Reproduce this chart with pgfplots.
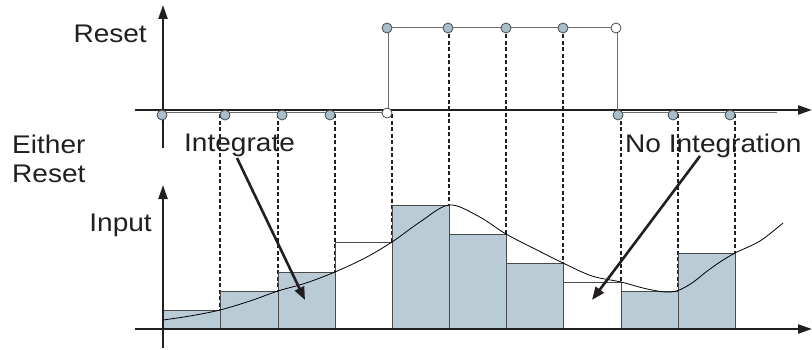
\documentclass[border=0pt]{standalone}
\usepackage{pgfplots}
\pgfplotsset{compat=1.18}
\usepackage{graphicx}
\usetikzlibrary{arrows.meta}
\usepackage{fontspec}
\setmainfont{Liberation Sans}
\definecolor{barblue}{HTML}{B9CBD4}
\definecolor{circblue}{HTML}{A8BECA}
\definecolor{edgegray}{HTML}{4A4A4A}
\definecolor{siggray}{HTML}{6E6E6E}
\definecolor{ink}{HTML}{231F20}
\newcommand{\lbl}[1]{\fontsize{25.5}{28}\selectfont\scalebox{1.1}[1]{#1}}
\begin{document}
\begin{tikzpicture}
\begin{axis}[
  scale only axis, width=812pt, height=349pt,
  xmin=0, xmax=812, ymin=-20, ymax=329,
  hide axis, clip=false,
]
% dashed sample lines
\addplot[ink, line width=1.5pt, dash pattern=on 4pt off 2.5pt] coordinates {(220,215) (220,0)};
\addplot[ink, line width=1.5pt, dash pattern=on 4pt off 2.5pt] coordinates {(278,215) (278,0)};
\addplot[ink, line width=1.5pt, dash pattern=on 4pt off 2.5pt] coordinates {(335,215) (335,0)};
\addplot[ink, line width=1.5pt, dash pattern=on 4pt off 2.5pt] coordinates {(392,215) (392,0)};
\addplot[ink, line width=1.5pt, dash pattern=on 4pt off 2.5pt] coordinates {(449,301) (449,0)};
\addplot[ink, line width=1.5pt, dash pattern=on 4pt off 2.5pt] coordinates {(506,301) (506,0)};
\addplot[ink, line width=1.5pt, dash pattern=on 4pt off 2.5pt] coordinates {(563,301) (563,0)};
\addplot[ink, line width=1.5pt, dash pattern=on 4pt off 2.5pt] coordinates {(621,215) (621,0)};
\addplot[ink, line width=1.5pt, dash pattern=on 4pt off 2.5pt] coordinates {(678,215) (678,0)};
\addplot[ink, line width=1.5pt, dash pattern=on 4pt off 2.5pt] coordinates {(735,215) (735,0)};
% held values (bars)
\addplot[ybar interval, fill=barblue, draw=edgegray, line width=0.8pt] coordinates {
(163,19) (220,38) (278,57) (335,87) (392,124) (449,95) (506,66) (563,47) (621,38) (678,76) (735,76)};
\addplot[ybar interval, fill=white, draw=edgegray, line width=0.8pt] coordinates {(335,87) (392,87)};
\addplot[ybar interval, fill=white, draw=edgegray, line width=0.8pt] coordinates {(563,47) (621,47)};
% input curve
\addplot[black, line width=0.8pt, smooth, tension=0.55] coordinates {
(163,9) (190,13) (220,19) (250,28) (278,38) (306,46) (335,57) (365,71) (392,87) (420,107) (449,124)
(478,113) (506,95) (535,80) (563,66) (592,53) (621,47) (645,40.5) (665,37) (678,38.5) (692,46) (706,57) (720,67) (735,76) (760,88) (783,106)};
% axes
\addplot[ink, line width=2.3pt, -{Triangle[length=14pt,width=9pt]}] coordinates {(163,181) (163,324)};
\addplot[ink, line width=2.3pt, -{Triangle[length=14pt,width=9pt]}] coordinates {(135,219) (812,219)};
\addplot[ink, line width=2.3pt, -{Triangle[length=14pt,width=9pt]}] coordinates {(163,-19) (163,144)};
\addplot[ink, line width=2.3pt, -{Triangle[length=14pt,width=9pt]}] coordinates {(135,0) (812,0)};
% reset signal
\addplot[siggray, line width=1pt] coordinates {(163,216.5) (388,216.5) (388,301) (617,301) (617,216.5) (777,216.5)};
% samples of reset
\addplot[only marks, mark=*, mark size=5pt, mark options={fill=circblue, draw=edgegray, line width=0.8pt}] coordinates {
(162,214) (225,214) (282,214) (330,214) (618,214) (673,214) (730,214)
(387,301) (448,301) (506,301) (563,301)};
\addplot[only marks, mark=*, mark size=5pt, mark options={fill=white, draw=edgegray, line width=0.8pt}] coordinates {
(387,216) (616,301)};
% annotation arrows
\addplot[ink, line width=2.6pt, -{Triangle[length=13pt,width=10pt]}] coordinates {(237,171) (305,29)};
\addplot[ink, line width=2.6pt, -{Triangle[length=13pt,width=10pt]}] coordinates {(700,173) (592,29)};
% labels
\node[anchor=base east, inner sep=0, text=ink] at (axis cs:147,286) {\lbl{Reset}};
\node[anchor=base west, inner sep=0, text=ink] at (axis cs:12,176) {\lbl{Either}};
\node[anchor=base west, inner sep=0, text=ink] at (axis cs:12,147) {\lbl{Reset}};
\node[anchor=base east, inner sep=0, text=ink] at (axis cs:152,98) {\lbl{Input}};
\node[anchor=base west, inner sep=0, text=ink] at (axis cs:184,178) {\lbl{Integrate}};
\node[anchor=base west, inner sep=0, text=ink] at (axis cs:625,177) {\lbl{No Integration}};
\end{axis}
\pgfresetboundingbox
\path (0,0) rectangle (812pt,349pt);
\end{tikzpicture}
\end{document}
